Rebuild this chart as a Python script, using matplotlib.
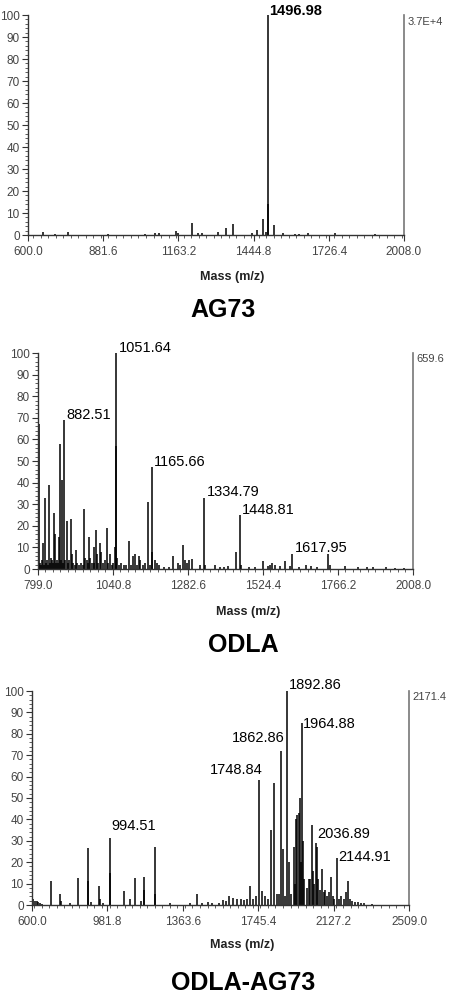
import matplotlib
matplotlib.use("Agg")
import matplotlib.pyplot as plt
from matplotlib.ticker import MultipleLocator, FixedLocator

plt.rcParams['font.family'] = ['Liberation Sans', 'DejaVu Sans']

# ---------------- data ----------------
# AG73
ag_mz = [656, 700, 750, 900, 1040, 1075, 1090, 1154, 1160, 1214, 1235, 1250, 1312, 1342, 1368,
         1440, 1457, 1480, 1490, 1496.98, 1499, 1521, 1555, 1600, 1615, 1650, 1750, 1900]
ag_int = [1.5, 0.5, 1.5, 0.5, 0.5, 1.0, 0.8, 2.0, 1.0, 5.5, 1.0, 0.8, 1.5, 3.0, 5.0,
          1.0, 2.5, 7.5, 1.5, 100, 14, 4.5, 1.0, 0.6, 0.5, 0.7, 1.0, 0.5]
ag_labels = [(1496.98, 100, "1496.98")]
ag_xticks = [600.0, 881.6, 1163.2, 1444.8, 1726.4, 2008.0]
ag_max = "3.7E+4"

# ODLA
od_mz = [801, 803, 806, 810, 813, 816, 819, 821.6, 825, 829, 832, 835.5, 838, 842, 845, 848,
         851.6, 853, 857, 861, 864, 867.8, 870, 873, 876, 879, 882.51, 886, 891.4, 895, 899,
         905, 908, 912, 917, 921.5, 926, 932, 938, 943, 948, 951, 956, 960, 964, 967, 972,
         978, 981, 985, 988, 993, 997.9, 1003, 1008, 1014, 1020, 1026, 1031, 1037, 1041, 1047,
         1049, 1051.64, 1055, 1060, 1068, 1076, 1084, 1092, 1098, 1105, 1112, 1117, 1124, 1128,
         1136, 1145, 1153.6, 1160, 1165.66, 1168, 1175, 1182, 1190, 1205, 1220, 1235, 1250,
         1258, 1268, 1272, 1279, 1285, 1296, 1320, 1334.79, 1338, 1370, 1385, 1400, 1412, 1436,
         1448.81, 1452, 1480, 1500, 1525, 1540, 1547, 1553, 1562, 1580, 1595, 1612, 1617.95,
         1640, 1662, 1680, 1700, 1735, 1740, 1790, 1830, 1860, 1880, 1920, 1950, 1980]
od_int = [2, 67, 3, 2, 4, 12, 2, 33, 3, 4, 2, 39, 3, 5, 4, 3,
          26, 16, 3, 4, 3, 15, 58, 4, 41, 3, 69, 4, 22, 3, 4,
          23, 7, 3, 2, 9, 3, 2, 3, 2, 28, 5, 4, 3, 15, 5, 3,
          10, 3, 18, 7, 3, 12, 8, 3, 4, 19, 3, 7, 2, 3, 10,
          57, 100, 5, 2, 3, 2, 2, 13, 2, 6, 7, 2, 6, 4,
          2, 3, 31, 2, 47, 8, 4, 3, 2, 1, 1, 6, 3,
          2, 11, 4, 3, 4, 4.5, 2, 33, 2, 2, 1, 1, 1.5, 8,
          25, 2, 1, 1, 3.5, 1.5, 2, 3, 2, 1.5, 3.5, 1.5, 7,
          1, 2, 1.5, 1, 7, 2, 1.5, 1, 0.7, 1, 0.7, 0.6, 0.5]
od_labels = [(882.51, 69, "882.51"), (1051.64, 100, "1051.64"), (1165.66, 47, "1165.66"),
             (1334.79, 33, "1334.79"), (1448.81, 25, "1448.81"), (1617.95, 7, "1617.95")]
od_xticks = [799.0, 1040.8, 1282.6, 1524.4, 1766.2, 2008.0]
od_max = "659.6"

# ODLA-AG73
oa_mz = [607, 615, 625, 632, 640, 650, 696, 742, 748, 790, 833, 882, 886, 900, 938, 942, 960,
         994.51, 997, 1066, 1096, 1121.5, 1150, 1166, 1168, 1222, 1225, 1300, 1400, 1434, 1460,
         1490, 1510, 1545, 1566, 1580, 1600, 1620, 1640, 1660, 1675, 1690, 1706, 1720, 1735,
         1748.84, 1765, 1780, 1795, 1810, 1825, 1840, 1850, 1862.86, 1870, 1880, 1892.86, 1900,
         1912, 1925, 1931, 1938, 1944, 1950, 1956, 1960, 1964.88, 1970, 1978, 1990, 2002, 2009,
         2016, 2023, 2030, 2036.89, 2043, 2050, 2060, 2070, 2078, 2086, 2095, 2105, 2114, 2122,
         2130, 2144.91, 2155, 2165, 2178, 2188, 2200, 2212, 2219, 2235, 2250, 2265, 2280, 2320]
oa_int = [3, 2, 2, 1.5, 1, 0.5, 11, 5, 2, 1, 12.5, 26.5, 11, 1.5, 9, 3, 1,
          31.5, 15, 6.5, 3, 12.5, 2, 13, 7, 27, 5, 1, 1, 5, 1,
          1.5, 1, 0.8, 2.5, 2, 4, 3.5, 3, 3, 2.5, 3, 9, 3, 4,
          58.5, 6.5, 4, 3, 35, 57, 5, 5, 72, 26, 4, 100, 20,
          5, 27, 10, 40, 42, 43, 50, 20, 85, 30, 12, 8, 12, 12,
          37.5, 16, 10, 29, 27, 12, 7, 17, 6, 7, 4, 6, 13, 4,
          3, 22, 3, 4, 3, 6, 11, 3, 2, 1.5, 1.5, 1, 1, 0.5]
# label anchor (m/z, intensity, text, horizontal alignment, label center height)
oa_labels = [(994.51, 31.5, "994.51", 'left', 37), (1748.84, 58.5, "1748.84", 'right', 63),
             (1862.86, 72, "1862.86", 'right', 78), (1892.86, 100, "1892.86", 'left', 103),
             (1964.88, 85, "1964.88", 'left', 84.5), (2036.89, 29, "2036.89", 'left', 33),
             (2144.91, 22, "2144.91", 'left', 22.5)]
oa_xticks = [600.0, 981.8, 1363.6, 1745.4, 2127.2, 2509.0]
oa_max = "2171.4"

yticks = list(range(0, 101, 10))

W, H = 450, 1000
fig = plt.figure(figsize=(W / 100, H / 100), dpi=100)

def make_axes(left_px, right_px, top_px, bottom_px):
    return fig.add_axes([left_px / W, 1 - bottom_px / H, (right_px - left_px) / W,
                         (bottom_px - top_px) / H])

def style(ax, xticks, maxlabel):
    ax.set_xlim(xticks[0], xticks[-1])
    ax.set_ylim(0, 100)
    ax.spines['top'].set_visible(False)
    ax.spines['right'].set_color('#777777')
    ax.spines['right'].set_linewidth(1.2)
    ax.spines['left'].set_color('#333333')
    ax.spines['bottom'].set_color('#333333')
    ax.spines['left'].set_linewidth(1.0)
    ax.spines['bottom'].set_linewidth(1.0)
    ax.xaxis.set_major_locator(FixedLocator(xticks))
    step = (xticks[1] - xticks[0]) / 10
    ax.xaxis.set_minor_locator(MultipleLocator(step))
    ax.yaxis.set_major_locator(FixedLocator(yticks))
    ax.yaxis.set_minor_locator(MultipleLocator(2))
    ax.set_xticklabels([f"{t:.1f}" for t in xticks])
    ax.set_yticklabels([str(t) for t in yticks])
    ax.tick_params(axis='both', which='major', labelsize=8.5, colors='#333333',
                   labelcolor='#444444', length=4, width=0.8, direction='out', pad=2)
    ax.tick_params(axis='x', which='major', pad=4)
    ax.tick_params(axis='both', which='minor', length=2, width=0.6, colors='#444444')
    ax.tick_params(right=False, top=False)
    ax.text(1.01, 0.97, maxlabel, transform=ax.transAxes, fontsize=8,
            color='#444444', ha='left', va='center')

# ---- Panel 1 ----
ax1 = make_axes(28, 404, 15, 235)
ax1.vlines(ag_mz, 0, ag_int, color='black', lw=1.1)
style(ax1, ag_xticks, ag_max)
for x, y, s in ag_labels:
    ax1.text(x + 6, y + 2, s, fontsize=10.5, ha='left', va='center', color='black',
             fontweight='bold')
fig.text(232 / W, 1 - 277 / H, "Mass (m/z)", ha='center', va='center', fontsize=9,
         fontweight='bold', color='#222222')
fig.text(223 / W, 1 - 310 / H, "AG73", ha='center', va='center', fontsize=18,
         fontweight='bold')

# ---- Panel 2 ----
ax2 = make_axes(38, 413, 353, 569)
ax2.vlines(od_mz, 0, od_int, color='black', lw=1.1)
style(ax2, od_xticks, od_max)
for x, y, s in od_labels:
    ax2.text(x + 8, y + 2.5, s, fontsize=10.5, ha='left', va='center', color='black')
fig.text(248 / W, 1 - 612 / H, "Mass (m/z)", ha='center', va='center', fontsize=9,
         fontweight='bold', color='#222222')
fig.text(243 / W, 1 - 645 / H, "ODLA", ha='center', va='center', fontsize=18,
         fontweight='bold')

# ---- Panel 3 ----
ax3 = make_axes(32, 409, 691, 905)
ax3.vlines(oa_mz, 0, oa_int, color='black', lw=1.1)
style(ax3, oa_xticks, oa_max)
for x, y, s, ha, yc in oa_labels:
    if ha == 'right':
        ax3.text(x + 18, yc, s, fontsize=10.5, ha='right', va='center', color='black')
    else:
        ax3.text(x + 6, yc, s, fontsize=10.5, ha='left', va='center', color='black')
fig.text(242 / W, 1 - 945 / H, "Mass (m/z)", ha='center', va='center', fontsize=9,
         fontweight='bold', color='#222222')
fig.text(243 / W, 1 - 983 / H, "ODLA-AG73", ha='center', va='center', fontsize=18,
         fontweight='bold')

fig.savefig("out.png", dpi=100, facecolor='white')
